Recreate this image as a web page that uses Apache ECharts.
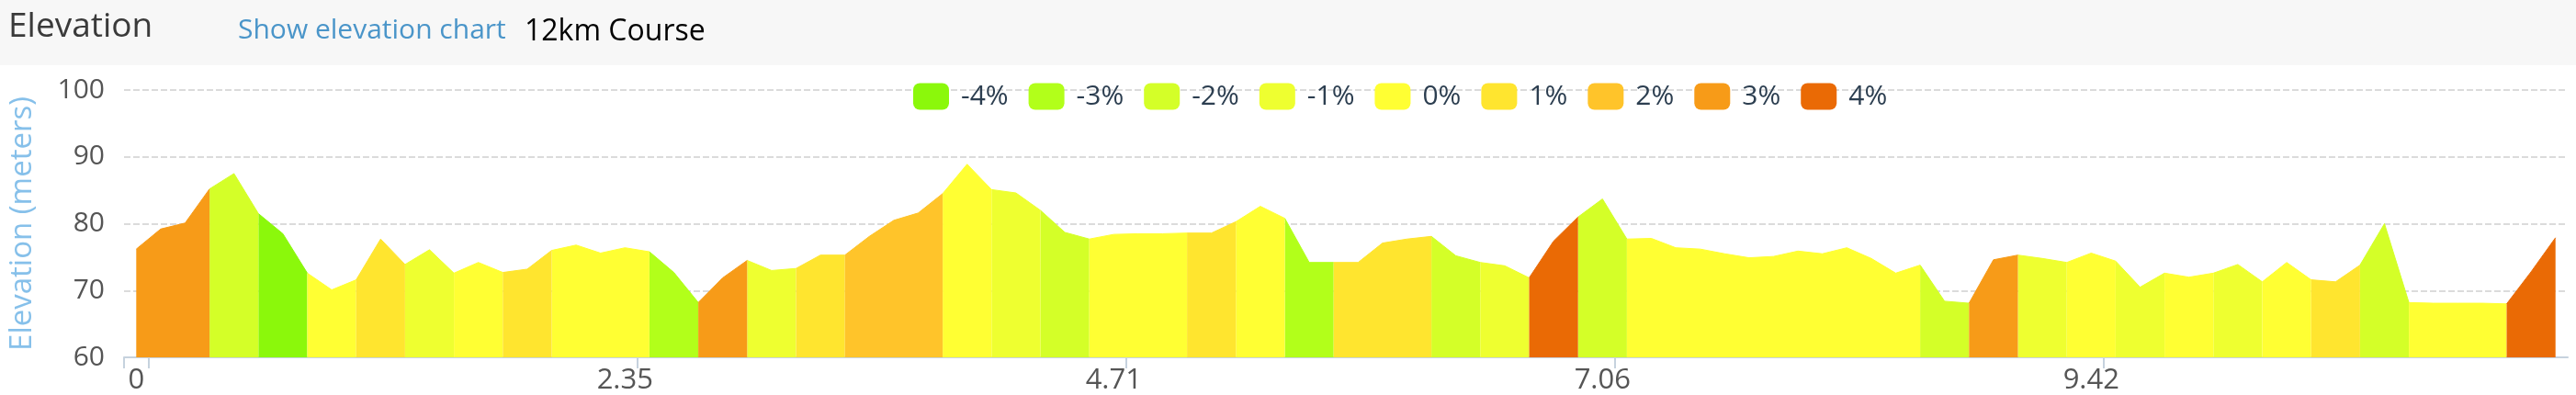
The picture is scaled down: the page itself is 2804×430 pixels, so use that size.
<!DOCTYPE html>
<html>
<head>
<meta charset="utf-8">
<script src="https://cdn.jsdelivr.net/npm/echarts@6/dist/echarts.min.js"></script>
<style>
html,body{margin:0;padding:0;background:#ffffff;}
#chart{width:2804px;height:430px;}
</style>
</head>
<body>
<div id="chart"></div>
<script>
// ---- data ----
const gradeNames = ['-4%', '-3%', '-2%', '-1%', '0%', '1%', '2%', '3%', '4%'];
const gradeValues = [-4, -3, -2, -1, 0, 1, 2, 3, 4];

// elevation (m) at each of the 100 course points
const elevation = [
  76.2, 79.2, 80.1, 85.2, 87.5, 81.5, 78.5, 72.6, 70.1, 71.6,
  77.7, 73.9, 76.1, 72.6, 74.2, 72.7, 73.2, 76.0, 76.8, 75.6,
  76.4, 75.8, 72.7, 68.2, 71.9, 74.5, 73.0, 73.3, 75.3, 75.3,
  78.1, 80.5, 81.6, 84.5, 88.9, 85.1, 84.6, 82.0, 78.7, 77.7,
  78.4, 78.5, 78.5, 78.6, 78.6, 80.3, 82.6, 80.8, 74.2, 74.2,
  74.2, 77.1, 77.7, 78.1, 75.2, 74.2, 73.7, 71.9, 77.4, 81.0,
  83.7, 77.7, 77.8, 76.4, 76.2, 75.5, 74.9, 75.1, 75.9, 75.5,
  76.4, 74.8, 72.6, 73.8, 68.4, 68.1, 74.6, 75.3, 74.8, 74.2,
  75.6, 74.4, 70.5, 72.6, 72.0, 72.6, 73.9, 71.3, 74.2, 71.6,
  71.3, 73.8, 80.0, 68.2, 68.1, 68.1, 68.1, 68.0, 72.8, 77.9
];

// grade segments: start point, end point, grade (%)
const segStart = [0, 3, 5, 7, 9, 11, 13, 15, 17, 21, 23, 25, 27, 29, 33, 35, 37, 39, 43, 45, 47, 49, 53, 55, 57, 59, 61, 73, 75, 77, 79, 81, 83, 85, 87, 89, 91, 93, 97];
const segEnd   = [3, 5, 7, 9, 11, 13, 15, 17, 21, 23, 25, 27, 29, 33, 35, 37, 39, 43, 45, 47, 49, 53, 55, 57, 59, 61, 73, 75, 77, 79, 81, 83, 85, 87, 89, 91, 93, 97, 99];
const segGrade = [3, -2, -4, 0, 1, -1, 0, 1, 0, -3, 3, -1, 1, 2, 0, -1, -2, 0, 1, 0, -3, 1, -2, -1, 4, -2, 0, -2, 3, -1, 0, -1, 0, -1, 0, 1, -2, 0, 4];

// x axis tick labels (km) and the point index each belongs to
const distanceLabels = ['0', '2.35', '4.71', '7.06', '9.42'];
const distanceLabelIndex = [0, 20, 40, 60, 80];

// ---- styles ----
const gradeColors = ['#8BF80B', '#B2FF1A', '#D4FF28', '#EEFF30', '#FFFF33', '#FFE52F', '#FFC42A', '#F79B18', '#EA6A05'];
const FONT = '"Open Sans", "Noto Sans", sans-serif';

// ---- build series ----
const series = gradeValues.map(function (g, gi) {
  const data = elevation.map(function (v, i) {
    let hit = false;
    for (let s = 0; s < segGrade.length; s++) {
      if (segGrade[s] === g && i >= segStart[s] && i <= segEnd[s]) { hit = true; break; }
    }
    return hit ? [i, v] : [i, '-'];
  });
  return {
    name: gradeNames[gi],
    type: 'line',
    data: data,
    showSymbol: false,
    symbol: 'none',
    connectNulls: false,
    color: gradeColors[gi],
    lineStyle: { width: 1, color: gradeColors[gi] },
    areaStyle: { color: gradeColors[gi], opacity: 1, origin: 'start' },
    emphasis: { disabled: true },
    silent: true
  };
});

const tickValues = [-0.5].concat(distanceLabelIndex.map(function (v) { return v + 0.5; }));

const chart = echarts.init(document.getElementById('chart'), null, { renderer: 'canvas', width: 2804, height: 430 });
chart.setOption({
  animation: false,
  backgroundColor: '#ffffff',
  graphic: [
    { type: 'rect', left: 0, top: 0, shape: { x: 0, y: 0, width: 2804, height: 71 }, style: { fill: '#F7F7F7' }, z: -10 },
    { type: 'text', x: 9, y: 29, style: { text: 'Elevation', fontSize: 37, fontFamily: FONT, fill: '#3A3A3A', verticalAlign: 'middle', align: 'left' } },
    { type: 'text', x: 259, y: 33, style: { text: 'Show elevation chart', fontSize: 30, fontFamily: FONT, fill: '#4A95C9', verticalAlign: 'middle', align: 'left' } },
    { type: 'text', x: 571, y: 35, style: { text: '12km Course', fontSize: 32, fontFamily: FONT, fill: '#000000', verticalAlign: 'middle', align: 'left' } }
  ],
  legend: {
    data: gradeNames,
    left: 994,
    top: 90,
    padding: 0,
    icon: 'roundRect',
    itemWidth: 39,
    itemHeight: 29,
    itemGap: 22,
    textStyle: { fontSize: 30, fontFamily: FONT, color: '#2C3E50', padding: [0, 0, 0, 8] },
    selectedMode: false
  },
  grid: { left: 127, right: 9, top: 98, bottom: 40, containLabel: false },
  xAxis: {
    type: 'value',
    min: -0.5,
    max: 99.5,
    axisLine: { show: true, lineStyle: { color: '#C6D2DE', width: 2 } },
    axisTick: { show: true, length: 12, lineStyle: { color: '#C6D2DE', width: 2 }, customValues: tickValues },
    axisLabel: {
      show: true, fontSize: 31, fontFamily: FONT, color: '#555555', margin: 10,
      customValues: distanceLabelIndex,
      formatter: function (v) {
        const k = distanceLabelIndex.indexOf(Math.round(v));
        return k >= 0 ? distanceLabels[k] : '';
      }
    },
    splitLine: { show: false }
  },
  yAxis: {
    type: 'value',
    min: 60,
    max: 100,
    interval: 10,
    name: 'Elevation (meters)',
    nameLocation: 'middle',
    nameGap: 94,
    nameTextStyle: { fontSize: 33, fontFamily: FONT, color: '#86C0EA' },
    axisLine: { show: false },
    axisTick: { show: false },
    axisLabel: { fontSize: 30, fontFamily: FONT, color: '#555555', margin: 21 },
    splitLine: { show: true, lineStyle: { type: [7, 3], color: '#D0D0D0', width: 1.5 } }
  },
  series: series
});
</script>
</body>
</html>
